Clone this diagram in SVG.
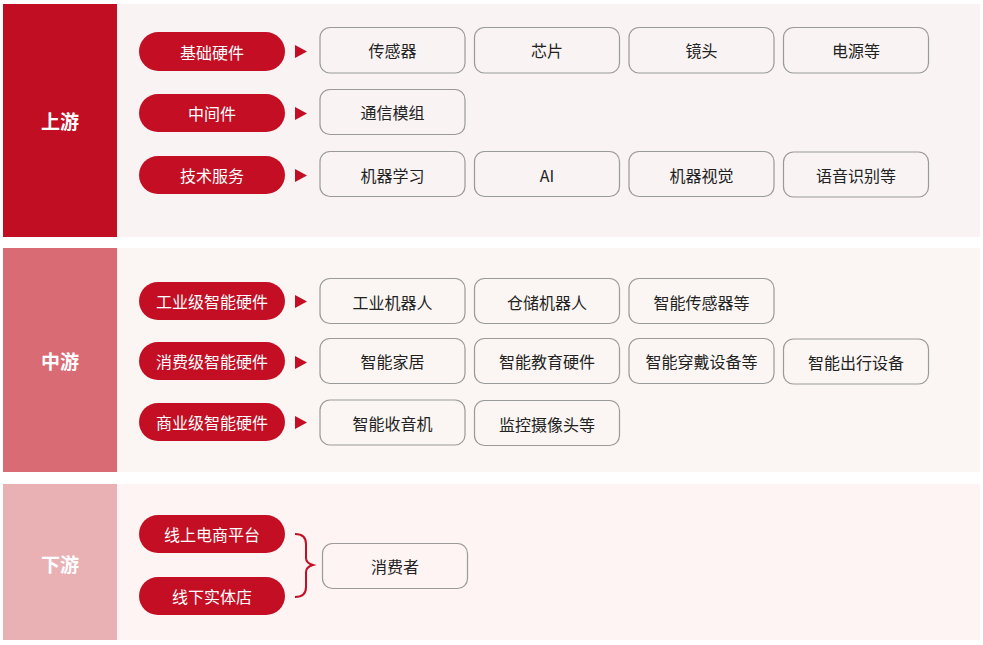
<svg xmlns="http://www.w3.org/2000/svg" width="983" height="645" viewBox="0 0 983 645">
<defs>
<style>
.bgU{fill:#F9F3F3}
.bgM{fill:#FBF6F3}
.bgD{fill:#FDF4F3}
.band{font-family:"Noto Sans CJK SC","Noto Sans",sans-serif;font-size:19px;font-weight:bold;fill:#fff;text-anchor:middle;dominant-baseline:central}
.pill rect{fill:#C30E23}
.pill text{font-family:"Noto Sans CJK SC","Noto Sans",sans-serif;font-size:16px;fill:#fff;text-anchor:middle;dominant-baseline:central}
.box rect{fill:none;stroke:#9A9A9A;stroke-width:1.2}
.box text{font-family:"Noto Sans CJK SC","Noto Sans",sans-serif;font-size:16px;fill:#222;text-anchor:middle;dominant-baseline:central}
.arr{fill:#C30E23}
</style>
</defs>
<rect width="983" height="645" fill="#fff"/>
<!-- sections -->
<g id="sec-up">
<rect class="bgU" x="117" y="4" width="863" height="233"/>
<rect x="3" y="4" width="114" height="233" fill="#C20E23"/>
<text class="band" x="60" y="120">上游</text>
</g>
<g id="sec-mid">
<rect class="bgM" x="117" y="248" width="863" height="224"/>
<rect x="3" y="248" width="114" height="224" fill="#D96B74"/>
<text class="band" x="60" y="360">中游</text>
</g>
<g id="sec-down">
<rect class="bgD" x="117" y="484" width="863" height="156"/>
<rect x="3" y="484" width="114" height="156" fill="#EAB1B5"/>
<text class="band" x="60" y="563">下游</text>
</g>
<!-- pills -->
<g id="p-jichu" class="pill"><rect x="139" y="32" width="146" height="39" rx="19.5"/><text x="212" y="51.5">基础硬件</text></g>
<g id="p-zhongjian" class="pill"><rect x="139" y="94" width="146" height="38" rx="19"/><text x="212" y="113">中间件</text></g>
<g id="p-jishu" class="pill"><rect x="139" y="156" width="146" height="38" rx="19"/><text x="212" y="175">技术服务</text></g>
<g id="p-gongye" class="pill"><rect x="139" y="282" width="146" height="38" rx="19"/><text x="212" y="301">工业级智能硬件</text></g>
<g id="p-xiaofei" class="pill"><rect x="139" y="342" width="146" height="38" rx="19"/><text x="212" y="361">消费级智能硬件</text></g>
<g id="p-shangye" class="pill"><rect x="139" y="403" width="146" height="38" rx="19"/><text x="212" y="422">商业级智能硬件</text></g>
<g id="p-xianshang" class="pill"><rect x="139" y="515" width="146" height="38" rx="19"/><text x="212" y="534">线上电商平台</text></g>
<g id="p-xianxia" class="pill"><rect x="139" y="577" width="146" height="38" rx="19"/><text x="212" y="596">线下实体店</text></g>
<!-- boxes -->
<g id="b-chuanganqi" class="box"><rect x="320" y="27.5" width="145" height="45.5" rx="10"/><text x="392.5" y="50">传感器</text></g>
<g id="b-xinpian" class="box"><rect x="474.5" y="27.5" width="145" height="45.5" rx="10"/><text x="547" y="50">芯片</text></g>
<g id="b-jingtou" class="box"><rect x="629" y="27.5" width="145" height="45.5" rx="10"/><text x="701.5" y="50">镜头</text></g>
<g id="b-dianyuan" class="box"><rect x="783.5" y="27.5" width="145" height="45.5" rx="10"/><text x="856" y="50">电源等</text></g>
<g id="b-tongxin" class="box"><rect x="320" y="89.5" width="145" height="45" rx="10"/><text x="392.5" y="112">通信模组</text></g>
<g id="b-jiqixuexi" class="box"><rect x="320" y="151.5" width="145" height="45" rx="10"/><text x="392.5" y="174.5">机器学习</text></g>
<g id="b-ai" class="box"><rect x="474.5" y="151.5" width="145" height="45" rx="10"/><text x="547" y="174.5">AI</text></g>
<g id="b-jiqishijue" class="box"><rect x="629" y="151.5" width="145" height="45" rx="10"/><text x="701.5" y="174.5">机器视觉</text></g>
<g id="b-yuyin" class="box"><rect x="783.5" y="152" width="145" height="45" rx="10"/><text x="856" y="175">语音识别等</text></g>
<g id="b-gongyejiqiren" class="box"><rect x="320" y="278.5" width="145" height="45" rx="10"/><text x="392.5" y="301.5">工业机器人</text></g>
<g id="b-cangchu" class="box"><rect x="474.5" y="278.5" width="145" height="45" rx="10"/><text x="547" y="301.5">仓储机器人</text></g>
<g id="b-zhinengchuangan" class="box"><rect x="629" y="278.5" width="145" height="45" rx="10"/><text x="701.5" y="301.5">智能传感器等</text></g>
<g id="b-jiaju" class="box"><rect x="320" y="338.5" width="145" height="45" rx="10"/><text x="392.5" y="361">智能家居</text></g>
<g id="b-jiaoyu" class="box"><rect x="474.5" y="338.5" width="145" height="45" rx="10"/><text x="547" y="361">智能教育硬件</text></g>
<g id="b-chuandai" class="box"><rect x="629" y="338.5" width="145" height="45" rx="10"/><text x="701.5" y="361">智能穿戴设备等</text></g>
<g id="b-chuxing" class="box"><rect x="783.5" y="339" width="145" height="45" rx="10"/><text x="856" y="362">智能出行设备</text></g>
<g id="b-shouyinji" class="box"><rect x="320" y="400" width="145" height="45" rx="10"/><text x="392.5" y="422.5">智能收音机</text></g>
<g id="b-jiankong" class="box"><rect x="474.5" y="400.5" width="145" height="45" rx="10"/><text x="547" y="423.5">监控摄像头等</text></g>
<g id="b-xiaofeizhe" class="box"><rect x="322.5" y="543.5" width="145" height="45" rx="10"/><text x="395" y="566">消费者</text></g>
<!-- connectors -->
<g id="connectors">
<polygon class="arr" points="295,45 307,51.5 295,58"/>
<polygon class="arr" points="295,107 307,113.5 295,120"/>
<polygon class="arr" points="295,169 307,175.5 295,182"/>
<polygon class="arr" points="295,295 307,301.5 295,308"/>
<polygon class="arr" points="295,356 307,362.5 295,369"/>
<polygon class="arr" points="295,416 307,422.5 295,429"/>
<path d="M295,534 Q306,534 306,544 L306,558 Q306,563 313,565 Q306,567 306,572 L306,587 Q306,597 295,597" fill="none" stroke="#C30E23" stroke-width="2"/>
</g>
</svg>
